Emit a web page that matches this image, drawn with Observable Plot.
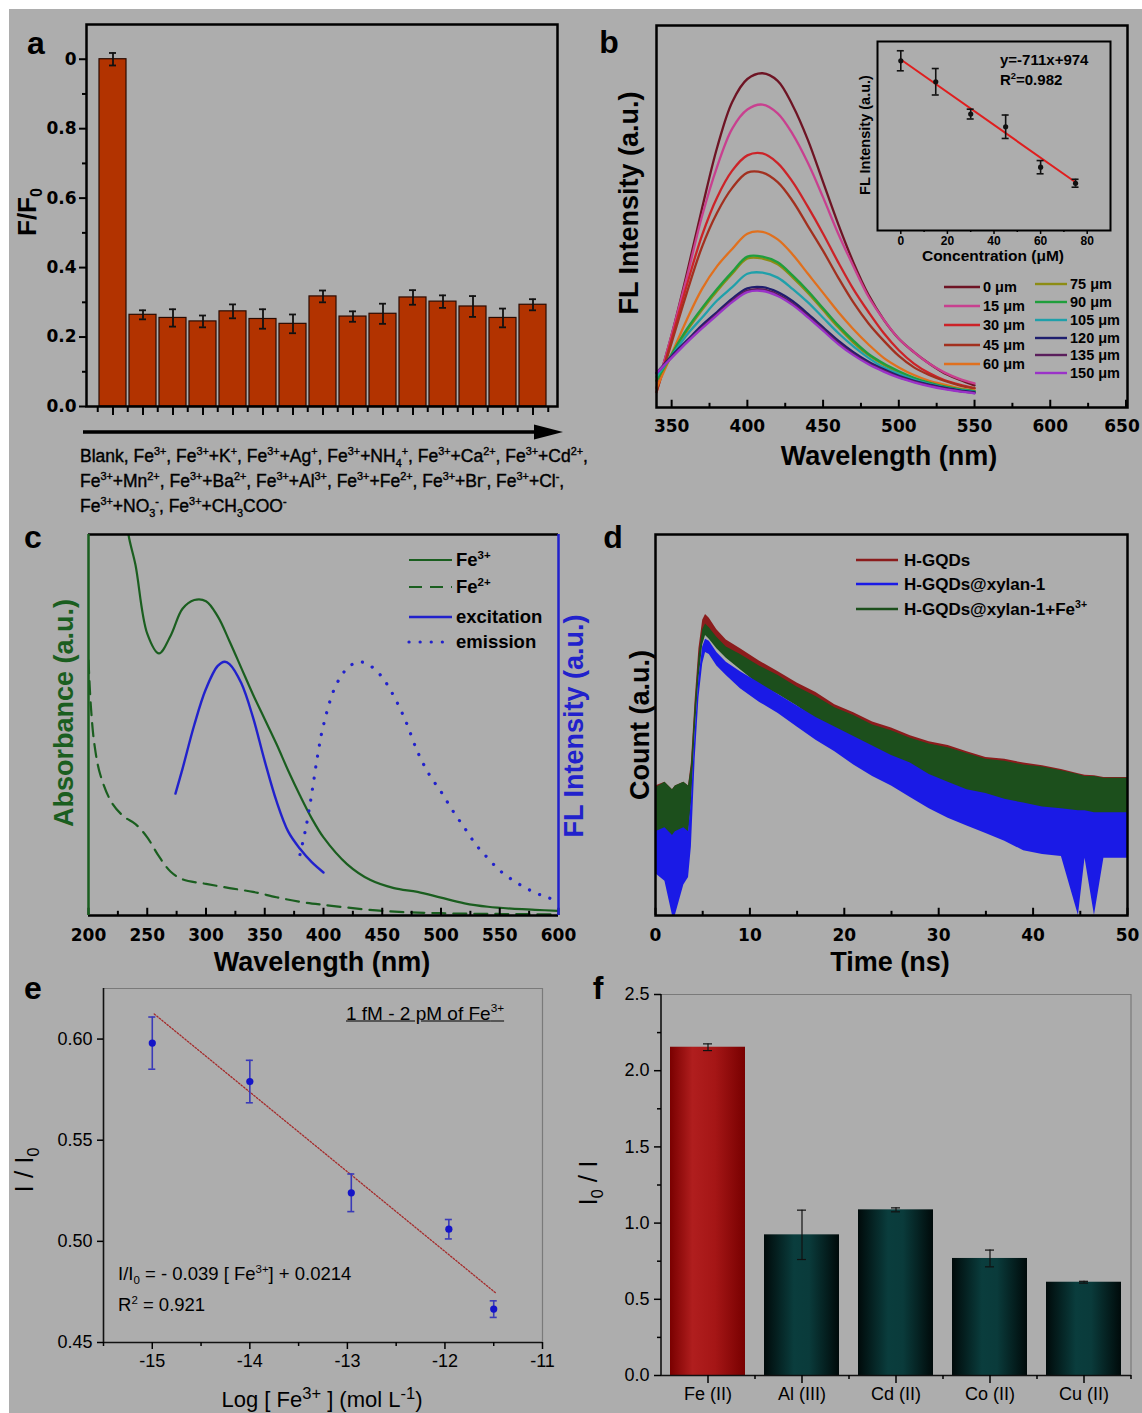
<!DOCTYPE html>
<html><head><meta charset="utf-8">
<script src="https://cdn.jsdelivr.net/npm/d3@7"></script>
<script src="https://cdn.jsdelivr.net/npm/@observablehq/plot@0.6"></script>
<style>
html,body{margin:0;padding:0;background:#fff;}
#fig{position:relative;width:1142px;height:1413px;overflow:hidden;background:#fff;}
#bg{position:absolute;left:9px;top:9px;width:1133px;height:1404px;background:#adadad;}
.t{position:absolute;white-space:nowrap;line-height:1;color:#000;}
.t sup,.t sub{font-size:0.62em;line-height:0;}
</style></head><body><div id="fig"><div id="bg"></div></div>
<script>
// ---------------- DATA ----------------
// Panel a
const catsA = ["Blank","Fe<sup>3+</sup>","Fe<sup>3+</sup>+K<sup>+</sup>","Fe<sup>3+</sup>+Ag<sup>+</sup>","Fe<sup>3+</sup>+NH<sub>4</sub><sup>+</sup>","Fe<sup>3+</sup>+Ca<sup>2+</sup>","Fe<sup>3+</sup>+Cd<sup>2+</sup>","Fe<sup>3+</sup>+Mn<sup>2+</sup>","Fe<sup>3+</sup>+Ba<sup>2+</sup>","Fe<sup>3+</sup>+Al<sup>3+</sup>","Fe<sup>3+</sup>+Fe<sup>2+</sup>","Fe<sup>3+</sup>+Br<sup>-</sup>","Fe<sup>3+</sup>+Cl<sup>-</sup>","Fe<sup>3+</sup>+NO<sub>3</sub><sup>-</sup>","Fe<sup>3+</sup>+CH<sub>3</sub>COO<sup>-</sup>"];
const valsA = [1.0,0.264,0.255,0.245,0.274,0.252,0.238,0.317,0.259,0.267,0.314,0.302,0.288,0.255,0.293];
const errA  = [0.018,0.013,0.025,0.017,0.020,0.028,0.027,0.017,0.015,0.029,0.021,0.018,0.030,0.027,0.016];
const yTicksA = [0,0.2,0.4,0.6,0.8,1.0];
const yLabelsA = ["0.0","0.2","0.4","0.6","0.8","0"];
const yMinorA = [0.1,0.3,0.5,0.7,0.9];
const lineStartsA = [0,7,13];

// Panel b
const wlB = [340,350,360,370,380,390,400,410,420,430,440,450,460,470,480,490,500,510,520,530,540,550];
const fl0   = [5,19,35,52,68,80,86,87.5,85.5,79,70,59,48,38,29.5,23,18,14.5,11.5,9,7.3,5.8];
const fl15  = [5,19,34,50,63,73,78,79.3,77,71.5,64,55,45.5,37,29,23,18,14.5,11.5,9.2,7.5,6.3];
const fl30  = [4,18,32,45,55,62,66,66.5,64,59,52.5,45.5,38,31,25,19.5,15,11.5,9,7.2,6,5.1];
const fl45  = [4,17,30,42,51,57.5,61.5,61.5,59,54,47.5,41,34,27.5,22,17.5,13.5,10.5,8.5,7,5.8,5];
const fl60  = [5,14,23,31,37,41.5,45.5,46,44,40,35,30,25,20.5,16.5,13,10.5,8.5,7,6,5,4.5];
const fl75  = [7,13.5,20,25.5,30.5,35,39,39,37.5,34,30,25.5,21,17,13.7,11.2,9.2,7.6,6.3,5.4,4.7,4.2];
const fl90  = [7,14,20.5,26,31,35.5,39.5,39.5,38,34.5,30.5,26,21.5,17.5,14,11.5,9.5,7.8,6.5,5.5,4.8,4.3];
const fl105 = [8,13.5,19,23.5,28,31.5,35,35.3,34,31,27.5,23.5,19.5,16,13,10.5,8.8,7.3,6.2,5.3,4.6,4.1];
const fl120 = [9,13.5,17.5,21.5,25,28.5,31.2,31.5,30.2,27.8,24.5,21,17.5,14.5,12,10,8.3,7,6,5.2,4.5,4];
const fl135 = [9,13.2,17.2,21,24.5,28,30.6,30.9,29.6,27.2,24,20.5,17,14,11.6,9.7,8,6.8,5.8,5,4.3,3.8];
const fl150 = [9,13,17,20.7,24.2,27.6,30.2,30.5,29.2,26.8,23.6,20.1,16.6,13.7,11.3,9.4,7.8,6.6,5.6,4.8,4.2,3.7];
const seriesB = [fl0,fl15,fl30,fl45,fl60,fl75,fl90,fl105,fl120,fl135,fl150];
const labelsB = ["0 μm","15 μm","30 μm","45 μm","60 μm","75 μm","90 μm","105 μm","120 μm","135 μm","150 μm"];
const colorsB = ["#6e1424","#c8408f","#cc2328","#a2301f","#e0701e","#8c8c14","#1f9e3c","#1fa0aa","#1e1e6e","#5a1e5c","#9a32c8"];
const ticksB = [350,400,450,500,550,600,650];
const minorB = [375,425,475,525,575,625];
// inset
const concI = [0,15,30,45,60,75];
const intI  = [89.8,78.7,61.6,54.9,33.5,25.0];
const errI  = [5.3,7.0,2.6,6.2,3.5,2.1];
const fitIx = [0,75];
const fitIy = [90.5,25.5];
const ticksI = [0,20,40,60,80];
const minorI = [10,30,50,70];

// Panel c
const fe3W = [230,234,240,250,260,270,280,290,300,310,320,330,340,350,360,370,380,390,400,420,440,460,480,500,520,540,560,580,600];
const fe3V = [112,100,92,74,68.8,73.5,80.5,82.8,82.5,78.5,72,65,58,51.5,45,38,31.5,25.5,20.5,13.5,9.3,7.2,6.2,4.7,3.2,2.3,1.8,1.5,1.2];
const fe2W = [200,202,205,210,220,230,240,250,260,270,280,300,320,340,360,380,400,450,500,550,600];
const fe2V = [67,55,45,37,29.5,26,24,20.5,15.5,11.5,9.5,8.3,7.2,6.2,4.8,3.6,2.8,1.2,0.6,0.4,0.3];
const excW = [274,280,290,300,310,316,320,330,340,350,360,370,380,390,400];
const excV = [32,38.5,50,59.5,65.5,66.6,66,61,52,40.5,30,22,17.5,14,11.3];
const emiW = [380,385,390,395,400,410,420,430,440,450,460,470,480,490,500,510,520,530,540,550,560,570,580,590,600];
const emiV = [16,23,32,42,50,60,64.8,66.6,65.5,62.5,57.5,51,43,37,32.5,27.5,23,18.5,15,11.8,9.5,7.6,6,4.8,3.8];
const ticksC = [200,250,300,350,400,450,500,550,600];
const minorC = [225,275,325,375,425,475,525,575];

// Panel d
const tD = [0,1,1.8,2.1,3,3.5,3.8,4.2,4.6,5,5.3,5.7,6.5,7.5,9,11,13,15,17,19,21,23,25,27,29,31,33,35,37,39,41,43,44.8,45.5,46.5,47.5,49,50];
const redLo = [22,22,10,21,22,23,31,50,65,73,76,75,72,69.5,66.5,62.5,59.5,56.5,53,50,47,44.5,42,39.5,37.5,35,33.5,32,30,29,27.5,26.5,25.5,25.5,25,25,24.5,24.5];
const redHi = [34,35,33,34,35,34,40,56.5,70,77.5,79,78,75,72.3,70,66.8,64,61,58.5,55.3,53.2,50.8,49.2,47.2,45.6,44.6,43,41.5,41,40,39.3,38.3,37.2,36.8,36.7,36.2,36.2,36.2];
const grnLo = [21,20,19,20,21,21,29,48,62,71,73.5,72.5,70,67.5,64.5,60.5,58,55,51.5,48.5,45.5,43,40.5,38,36,34,32.5,31,29.5,28.5,27,26,25,25,24.5,24.5,24,24];
const grnHi = [33.5,35,33,34,35,34,39,55,68,75,76.5,75.5,73,70.5,68.5,65.5,63,60,57.5,54.5,52.5,50,48.5,46.5,45,44,42.5,41,40.5,39.5,39,38,37,36.5,36.5,36,36,36];
const bluLo = [11,9,0,0,8,10,18,41,57,66,69,68.5,65.5,63,59.5,56,53,49.5,46,43,39.5,36.5,34,31,28,25.5,23.5,21.5,19.5,17,16,15.5,0,15,0,15,15,15];
const bluHi = [22,23,21,22,23,22,30,48,62.5,70.5,72.5,72,69,66.5,64,61,58,55,52,49.5,47,44.5,42,40,37,35,33,32,30.5,29.5,28.5,28,27.5,27.5,27,27,27,27];
const namesD = ["H-GQDs","H-GQDs@xylan-1","H-GQDs@xylan-1+Fe<sup>3+</sup>"];
const colorsD = ["#8b1c1c","#1a1ae6","#1c4f1c"];
const ticksD = [0,10,20,30,40,50];
const minorD = [5,15,25,35,45];

// Panel e
const xE = [-15,-14,-12.96,-11.96,-11.5];
const yE = [0.598,0.579,0.524,0.506,0.4665];
const errE = [0.0129,0.0105,0.0093,0.0048,0.0041];
const fitEx = [-14.98,-11.48];
const fitEy = [0.6124,0.4745];
const yTicksE = [0.45,0.50,0.55,0.60];
const xTicksE = [-15,-14,-13,-12,-11];
const xMinorE = [-15.5,-14.5,-13.5,-12.5,-11.5];

// Panel f
const catsF = ["Fe (II)","Al (III)","Cd (II)","Co (II)","Cu (II)"];
const valsF = [2.154,0.923,1.087,0.768,0.612];
const errF  = [0.022,0.162,0.013,0.055,0.006];
const yTicksF = [0,0.5,1.0,1.5,2.0,2.5];
const yMinorF = [0.25,0.75,1.25,1.75,2.25];

// ---------------- HELPERS ----------------
const fig = document.getElementById("fig");
const ARIAL = "Arial, 'Liberation Sans', Helvetica, sans-serif";
const DV = "'DejaVu Sans', Verdana, sans-serif";
function place(svg, left, top) {
  svg.style.position = "absolute";
  svg.style.left = left + "px";
  svg.style.top = top + "px";
  svg.style.background = "transparent";
  svg.style.overflow = "visible";
  fig.appendChild(svg);
  return svg;
}
function txt(html, x, y, o = {}) {
  const d = document.createElement("div");
  d.className = "t";
  d.innerHTML = html;
  const s = d.style;
  s.left = x + "px"; s.top = y + "px";
  s.fontSize = (o.size || 17) + "px";
  s.fontWeight = o.weight || "normal";
  s.fontFamily = o.family || ARIAL;
  s.color = o.color || "#000";
  if (o.stroke) s.webkitTextStroke = o.stroke;
  if (o.underline) s.textDecoration = "underline";
  const ax = o.anchor === "start" ? "0" : "-50%";
  s.transform = `translate(${ax},-50%)` + (o.rot ? ` rotate(${o.rot}deg)` : "");
  fig.appendChild(d);
  return d;
}
const baseStyle = {background: "transparent", color: "black", overflow: "visible"};
const axTxtB = {fontSize: 17, fontWeight: "bold", fontFamily: DV};
const axTxtN = {fontSize: 18, fontWeight: "normal", fontFamily: ARIAL};

// ---------------- PANEL A ----------------
const dataA = catsA.map((c, i) => ({c, v: valsA[i], lo: valsA[i] - errA[i], hi: valsA[i] + errA[i]}));
const halfStepA = (551.6 - 94) / 15 / 2;
const plotA = Plot.plot({
  width: 580, height: 420, marginLeft: 86, marginRight: 23, marginTop: 24, marginBottom: 14,
  style: baseStyle,
  x: {type: "band", domain: catsA, range: [94, 551.6], paddingInner: 0.09, paddingOuter: 0.045},
  y: {domain: [0, 1.1]},
  marks: [
    Plot.barY(dataA, {x: "c", y: "v", fill: "#b23300", stroke: "#2a0a00", strokeWidth: 1.2}),
    Plot.ruleX(dataA, {x: "c", y1: "lo", y2: "hi", stroke: "#111", strokeWidth: 1.8}),
    Plot.tickY(dataA, {x: "c", y: "lo", insetLeft: 10, insetRight: 10, stroke: "#111", strokeWidth: 1.8}),
    Plot.tickY(dataA, {x: "c", y: "hi", insetLeft: 10, insetRight: 10, stroke: "#111", strokeWidth: 1.8}),
    Plot.axisY({ticks: yTicksA, tickFormat: d => yLabelsA[yTicksA.indexOf(d)], tickSize: 7, tickPadding: 3, strokeWidth: 2, label: null, ...axTxtB}),
    Plot.axisY({ticks: yMinorA, tickSize: 4, tickFormat: () => "", strokeWidth: 2, label: null}),
    Plot.axisX({ticks: catsA, tickSize: 9, tickFormat: () => "", strokeWidth: 2, label: null}),
    Plot.axisX({ticks: catsA, tickSize: 6, dx: -halfStepA, tickFormat: () => "", strokeWidth: 2, label: null}),
    Plot.axisX({ticks: catsA.slice(-1), tickSize: 6, dx: halfStepA, tickFormat: () => "", strokeWidth: 2, label: null}),
    Plot.frame({stroke: "black", strokeWidth: 2.5})
  ]
});
place(plotA, 0, 0);
txt("a", 36, 43, {size: 32, weight: "bold"});
txt("F/F<sub>0</sub>", 27, 212, {size: 26, weight: "bold", rot: -90});
lineStartsA.forEach((s, k) => {
  const e = k + 1 < lineStartsA.length ? lineStartsA[k + 1] : catsA.length;
  const html = catsA.slice(s, e).join(", ") + (e < catsA.length ? "," : "");
  txt(html, 80, 457 + k * 25, {size: 17.5, anchor: "start", stroke: "0.4px #000"});
});

// ---------------- PANEL B ----------------
const dataB = seriesB.flatMap((arr, i) => wlB.map((w, j) => ({c: labelsB[i], w, v: arr[j]})));
const plotB = Plot.plot({
  width: 562, height: 480, marginLeft: 76, marginRight: 15, marginTop: 25, marginBottom: 73,
  style: baseStyle,
  x: {domain: [340, 651]},
  y: {domain: [0, 100], axis: null},
  color: {domain: labelsB, range: colorsB},
  marks: [
    Plot.line(dataB, {x: "w", y: "v", z: "c", stroke: "c", strokeWidth: 2.3, curve: "catmull-rom"}),
    Plot.ruleX(ticksB, {x: d => d, y1: 0, y2: 1.9, stroke: "black", strokeWidth: 2}),
    Plot.ruleX(minorB, {x: d => d, y1: 0, y2: 1.1, stroke: "black", strokeWidth: 2}),
    Plot.axisX({ticks: ticksB.slice(0, -1), tickSize: 0, tickPadding: 12, tickFormat: d => String(d), label: null, ...axTxtB}),
    Plot.axisX({ticks: ticksB.slice(-1), tickSize: 0, tickPadding: 12, dx: -4, tickFormat: d => String(d), label: null, ...axTxtB}),
    Plot.frame({stroke: "black", strokeWidth: 2.5})
  ]
});
place(plotB, 580, 0);
txt("b", 609, 42, {size: 32, weight: "bold"});
txt("FL Intensity (a.u.)", 629, 203, {size: 27, weight: "bold", rot: -90});
txt("Wavelength (nm)", 889, 456, {size: 27, weight: "bold"});

// inset
const dataI = concI.map((c, i) => ({x: c, y: intI[i], lo: intI[i] - errI[i], hi: intI[i] + errI[i]}));
const fitI = fitIx.map((x, i) => ({x, y: fitIy[i]}));
const plotI = Plot.plot({
  width: 290, height: 240, marginLeft: 37, marginRight: 20, marginTop: 11, marginBottom: 40,
  style: baseStyle,
  x: {domain: [-10, 90]},
  y: {domain: [0, 100], axis: null},
  marks: [
    Plot.line(fitI, {x: "x", y: "y", stroke: "#e01e1e", strokeWidth: 2}),
    Plot.ruleX(dataI, {x: "x", y1: "lo", y2: "hi", stroke: "#111", strokeWidth: 1.6}),
    Plot.ruleY(dataI, {y: "lo", x1: d => d.x - 1.5, x2: d => d.x + 1.5, stroke: "#111", strokeWidth: 1.6}),
    Plot.ruleY(dataI, {y: "hi", x1: d => d.x - 1.5, x2: d => d.x + 1.5, stroke: "#111", strokeWidth: 1.6}),
    Plot.dot(dataI, {x: "x", y: "y", r: 2.6, fill: "#111"}),
    Plot.axisX({ticks: ticksI, tickSize: 4, tickPadding: 2, strokeWidth: 1.5, label: null, tickFormat: d => String(d), fontSize: 12, fontWeight: "bold", fontFamily: ARIAL}),
    Plot.axisX({ticks: minorI, tickSize: 2, tickFormat: () => "", strokeWidth: 1.5, label: null}),
    Plot.frame({stroke: "black", strokeWidth: 2})
  ]
});
place(plotI, 840, 30);
txt("Concentration (μM)", 993, 256, {size: 15.5, weight: "bold"});
txt("FL Intensity (a.u.)", 865, 135, {size: 14.5, weight: "bold", rot: -90});
txt("y=-711x+974", 1000, 59, {size: 15, weight: "bold", anchor: "start"});
txt("R<sup>2</sup>=0.982", 1000, 79, {size: 15, weight: "bold", anchor: "start"});

// ---------------- PANEL C ----------------
const toRows = (w, v) => w.map((x, i) => ({x, y: v[i]}));
const GRN = "#1a5e1f", BLU = "#2121cc";
const plotC = Plot.plot({
  width: 600, height: 470, marginLeft: 88, marginRight: 42, marginTop: 24, marginBottom: 65,
  style: baseStyle,
  x: {domain: [200, 600]},
  y: {domain: [0, 100], axis: null},
  marks: [
    Plot.line(toRows(fe3W, fe3V), {x: "x", y: "y", stroke: GRN, strokeWidth: 2.2, curve: "catmull-rom", clip: true}),
    Plot.line(toRows(fe2W, fe2V), {x: "x", y: "y", stroke: GRN, strokeWidth: 2.2, curve: "catmull-rom", strokeDasharray: "13,8", clip: true}),
    Plot.line(toRows(excW, excV), {x: "x", y: "y", stroke: BLU, strokeWidth: 2.4, curve: "catmull-rom"}),
    Plot.line(toRows(emiW, emiV), {x: "x", y: "y", stroke: BLU, strokeWidth: 3.2, curve: "catmull-rom", strokeDasharray: "0.1,11", strokeLinecap: "round"}),
    Plot.ruleX(ticksC, {x: d => d, y1: 0, y2: 1.9, stroke: "black", strokeWidth: 2}),
    Plot.ruleX(minorC, {x: d => d, y1: 0, y2: 1.1, stroke: "black", strokeWidth: 2}),
    Plot.ruleY([0, 100], {stroke: "black", strokeWidth: 2.5}),
    Plot.ruleX([200], {stroke: GRN, strokeWidth: 2.5}),
    Plot.ruleX([600], {stroke: BLU, strokeWidth: 2.5}),
    Plot.axisX({ticks: ticksC, tickSize: 0, tickPadding: 13, tickFormat: d => String(d), label: null, ...axTxtB})
  ]
});
place(plotC, 0, 510);
txt("c", 33, 537, {size: 32, weight: "bold"});
txt("Absorbance (a.u.)", 64, 713, {size: 27, weight: "bold", rot: -90, color: GRN});
txt("FL Intensity (a.u.)", 574, 726, {size: 27, weight: "bold", rot: -90, color: BLU});
txt("Wavelength (nm)", 322, 962, {size: 27, weight: "bold"});

// ---------------- PANEL D ----------------
const rowsD = (lo, hi) => tD.map((t, i) => ({t, lo: lo[i], hi: hi[i]}));
const plotD = Plot.plot({
  width: 542, height: 470, marginLeft: 55, marginRight: 15, marginTop: 24, marginBottom: 65,
  style: baseStyle,
  x: {domain: [0, 50]},
  y: {domain: [0, 100], axis: null},
  marks: [
    Plot.areaY(rowsD(redLo, redHi), {x: "t", y1: "lo", y2: "hi", fill: colorsD[0]}),
    Plot.areaY(rowsD(grnLo, grnHi), {x: "t", y1: "lo", y2: "hi", fill: colorsD[2]}),
    Plot.areaY(rowsD(bluLo, bluHi), {x: "t", y1: "lo", y2: "hi", fill: colorsD[1]}),
    Plot.ruleX(ticksD, {x: d => d, y1: 0, y2: 1.9, stroke: "black", strokeWidth: 2}),
    Plot.ruleX(minorD, {x: d => d, y1: 0, y2: 1.1, stroke: "black", strokeWidth: 2}),
    Plot.axisX({ticks: ticksD, tickSize: 0, tickPadding: 13, tickFormat: d => String(d), label: null, ...axTxtB}),
    Plot.frame({stroke: "black", strokeWidth: 2.5})
  ]
});
place(plotD, 600, 510);
txt("d", 613, 537, {size: 32, weight: "bold"});
txt("Count (a.u.)", 640, 725, {size: 27, weight: "bold", rot: -90});
txt("Time (ns)", 890, 962, {size: 27, weight: "bold"});

// ---------------- PANEL E ----------------
const dataE = xE.map((x, i) => ({x, y: yE[i], lo: yE[i] - errE[i], hi: yE[i] + errE[i]}));
const fitE = fitEx.map((x, i) => ({x, y: fitEy[i]}));
const EB = "#3a3ab8";
const plotE = Plot.plot({
  width: 580, height: 443, marginLeft: 103, marginRight: 38, marginTop: 18, marginBottom: 71,
  style: baseStyle,
  x: {domain: [-15.5, -11]},
  y: {domain: [0.45, 0.625]},
  marks: [
    Plot.line(fitE, {x: "x", y: "y", stroke: "#a52a2a", strokeWidth: 1.3, strokeDasharray: "1.5,1.8"}),
    Plot.ruleX(dataE, {x: "x", y1: "lo", y2: "hi", stroke: EB, strokeWidth: 1.6}),
    Plot.ruleY(dataE, {y: "lo", x1: d => d.x - 0.036, x2: d => d.x + 0.036, stroke: EB, strokeWidth: 1.6}),
    Plot.ruleY(dataE, {y: "hi", x1: d => d.x - 0.036, x2: d => d.x + 0.036, stroke: EB, strokeWidth: 1.6}),
    Plot.dot(dataE, {x: "x", y: "y", r: 3.6, fill: "#1414c8"}),
    Plot.ruleX([-11], {stroke: "#7a7a7a", strokeWidth: 1.2}),
    Plot.ruleY([0.625], {stroke: "#7a7a7a", strokeWidth: 1.2}),
    Plot.ruleX([-15.5], {stroke: "#111", strokeWidth: 1.6}),
    Plot.ruleY([0.45], {stroke: "#111", strokeWidth: 1.6}),
    Plot.axisY({ticks: yTicksE, tickFormat: d3.format(".2f"), tickSize: 6, tickPadding: 5, strokeWidth: 1.5, label: null, ...axTxtN}),
    Plot.axisX({ticks: xTicksE, tickFormat: d => String(d), tickSize: 7, tickPadding: 5, strokeWidth: 1.5, label: null, ...axTxtN}),
    Plot.axisX({ticks: xMinorE, tickFormat: () => "", tickSize: 4, strokeWidth: 1.5, label: null})
  ]
});
place(plotE, 0, 970);
txt("e", 33, 988, {size: 32, weight: "bold"});
txt("I / I<sub>0</sub>", 24, 1170, {size: 26, rot: -90});
txt("Log [ Fe<sup style='font-size:0.75em'>3+</sup> ] (mol L<sup style='font-size:0.75em'>-1</sup>)", 322, 1400, {size: 22});
txt("1 fM - 2 pM of Fe<sup>3+</sup>", 346, 1013, {size: 19, anchor: "start", underline: true});
txt("I/I<sub>0</sub> = - 0.039 [ Fe<sup>3+</sup>] + 0.0214", 118, 1274, {size: 18.5, anchor: "start"});
txt("R<sup>2</sup> = 0.921", 118, 1305, {size: 18.5, anchor: "start"});

// ---------------- PANEL F ----------------
const dataF = catsF.map((c, i) => ({c, i, v: valsF[i], lo: valsF[i] - errF[i], hi: valsF[i] + errF[i]}));
const stepF = 94;
const plotF = Plot.plot({
  width: 572, height: 443, marginLeft: 91, marginRight: 11, marginTop: 24, marginBottom: 38,
  style: baseStyle,
  x: {type: "band", domain: catsF, paddingInner: 0.2, paddingOuter: 0.1},
  y: {domain: [0, 2.5]},
  marks: [
    Plot.barY(dataF, {filter: d => d.i === 0, x: "c", y: "v", fill: "url(#gRedF)"}),
    Plot.barY(dataF, {filter: d => d.i > 0, x: "c", y: "v", fill: "url(#gTealF)"}),
    Plot.ruleX(dataF, {x: "c", y1: "lo", y2: "hi", stroke: "#111", strokeWidth: 1.2}),
    Plot.tickY(dataF, {x: "c", y: "lo", insetLeft: 33, insetRight: 33, stroke: "#111", strokeWidth: 1.2}),
    Plot.tickY(dataF, {x: "c", y: "hi", insetLeft: 33, insetRight: 33, stroke: "#111", strokeWidth: 1.2}),
    Plot.ruleX([catsF[catsF.length - 1]], {dx: stepF / 2, stroke: "#7a7a7a", strokeWidth: 1.2}),
    Plot.ruleY([2.5], {stroke: "#7a7a7a", strokeWidth: 1.2}),
    Plot.ruleY([0], {stroke: "#111", strokeWidth: 1.6}),
    Plot.ruleX([catsF[0]], {dx: -stepF / 2, stroke: "#111", strokeWidth: 1.6}),
    Plot.axisY({ticks: yTicksF, tickFormat: d3.format(".1f"), tickSize: 7, tickPadding: 5, strokeWidth: 1.5, label: null, ...axTxtN}),
    Plot.axisY({ticks: yMinorF, tickFormat: () => "", tickSize: 4, strokeWidth: 1.5, label: null}),
    Plot.axisX({ticks: catsF, tickSize: 8, tickPadding: 4, strokeWidth: 1.5, label: null, ...axTxtN}),
    Plot.axisX({ticks: catsF, dx: stepF / 2, tickSize: 4, tickFormat: () => "", strokeWidth: 1.5, label: null})
  ]
});
{
  const ns = "http://www.w3.org/2000/svg";
  const defs = document.createElementNS(ns, "defs");
  defs.innerHTML = `
  <linearGradient id="gRedF" x1="0" x2="1" y1="0" y2="0">
    <stop offset="0" stop-color="#7a0000"/><stop offset="0.3" stop-color="#b01e1e"/>
    <stop offset="0.6" stop-color="#a51616"/><stop offset="1" stop-color="#780000"/>
  </linearGradient>
  <linearGradient id="gTealF" x1="0" x2="1" y1="0" y2="0">
    <stop offset="0" stop-color="#000a0a"/><stop offset="0.4" stop-color="#0a3d3d"/>
    <stop offset="0.6" stop-color="#0a3b3b"/><stop offset="1" stop-color="#000a0a"/>
  </linearGradient>`;
  plotF.insertBefore(defs, plotF.firstChild);
}
place(plotF, 570, 970);
txt("f", 598, 988, {size: 32, weight: "bold"});
txt("I<sub>0</sub> / I", 588, 1183, {size: 26, rot: -90});

// ---------------- DECORATIONS (legends, arrow) ----------------
const ns = "http://www.w3.org/2000/svg";
const deco = document.createElementNS(ns, "svg");
deco.setAttribute("width", 1142); deco.setAttribute("height", 1413);
deco.style.position = "absolute"; deco.style.left = "0"; deco.style.top = "0";
fig.appendChild(deco);
function dl(x1, x2, y, color, w, dash, cap) {
  const l = document.createElementNS(ns, "line");
  l.setAttribute("x1", x1); l.setAttribute("x2", x2); l.setAttribute("y1", y); l.setAttribute("y2", y);
  l.setAttribute("stroke", color); l.setAttribute("stroke-width", w);
  if (dash) l.setAttribute("stroke-dasharray", dash);
  if (cap) l.setAttribute("stroke-linecap", cap);
  deco.appendChild(l);
}
// arrow (panel a)
dl(83, 540, 432, "#000", 3.5);
{
  const p = document.createElementNS(ns, "polygon");
  p.setAttribute("points", "534,424.5 563,432 534,439.5");
  p.setAttribute("fill", "#000");
  deco.appendChild(p);
}
// legend b
const rowsB1 = [287, 306, 325, 345, 364];
const rowsB2 = [284, 302, 320, 338, 355, 373];
labelsB.forEach((lab, i) => {
  if (i < 5) { dl(944, 980, rowsB1[i], colorsB[i], 2.4); txt(lab, 983, rowsB1[i], {size: 14.5, weight: "bold", anchor: "start"}); }
  else { const y = rowsB2[i - 5]; dl(1035, 1067, y, colorsB[i], 2.4); txt(lab, 1070, y, {size: 14.5, weight: "bold", anchor: "start"}); }
});
// legend c
const legC = [["Fe<sup>3+</sup>", GRN, null, 2.2], ["Fe<sup>2+</sup>", GRN, "13,8", 2.2], ["excitation", BLU, null, 2.4], ["emission", BLU, "0.1,11", 3.2]];
const rowsC = [560, 587, 617, 642];
legC.forEach(([lab, col, dash, w], i) => {
  dl(409, 452, rowsC[i], col, w, dash, dash === "0.1,11" ? "round" : null);
  txt(lab, 456, rowsC[i], {size: 18.5, weight: "bold", anchor: "start"});
});
// legend d
const rowsDl = [560, 584, 609];
namesD.forEach((lab, i) => {
  dl(856, 898, rowsDl[i], colorsD[i], 2.6);
  txt(lab, 904, rowsDl[i], {size: 17, weight: "bold", anchor: "start"});
});
</script></body></html>
